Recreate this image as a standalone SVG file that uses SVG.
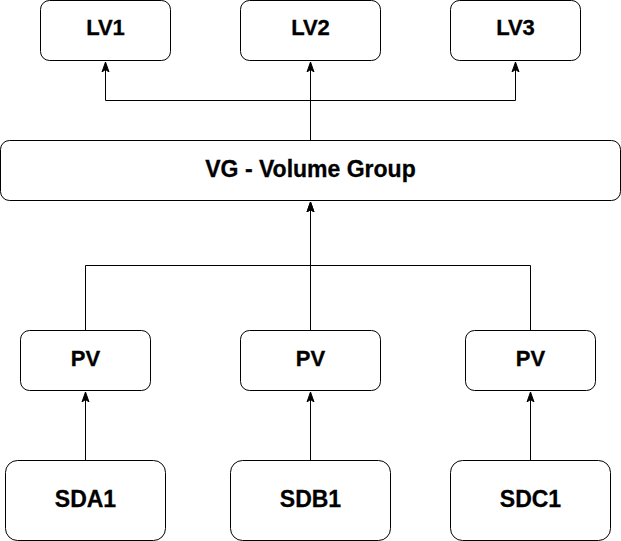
<svg xmlns="http://www.w3.org/2000/svg" width="621" height="541" viewBox="0 0 621 541">
<defs>
<marker id="arr" markerWidth="10" markerHeight="10" viewBox="0 0 10 10" refX="10" refY="5" orient="auto" markerUnits="userSpaceOnUse">
<path d="M0,1.5 L10,5 L0,8.5 L2.5,5 Z" fill="#000" stroke="#000" stroke-width="1"/>
</marker>
<style>
.box{fill:#fff;stroke:#000;stroke-width:1}
.t{font-family:"Liberation Sans",Arial,sans-serif;font-weight:bold;text-anchor:middle;fill:#000;stroke:#000;stroke-width:0.3}
.c{fill:none;stroke:#000;stroke-width:1}
</style>
</defs>
<rect width="621" height="541" fill="#fff"/>
<g id="connectors">
<path class="c" d="M310.5,140 V100.5 H105.5 V62" marker-end="url(#arr)"/>
<path class="c" d="M310.5,140 V62" marker-end="url(#arr)"/>
<path class="c" d="M310.5,100.5 H515.5 V62" marker-end="url(#arr)"/>
<path class="c" d="M85.5,330 V265.5 H310.5 V202" marker-end="url(#arr)"/>
<path class="c" d="M310.5,330 V202" marker-end="url(#arr)"/>
<path class="c" d="M530.5,330 V265.5 H310.5"/>
<path class="c" d="M85.5,460 V392" marker-end="url(#arr)"/>
<path class="c" d="M310.5,460 V392" marker-end="url(#arr)"/>
<path class="c" d="M530.5,460 V392" marker-end="url(#arr)"/>
</g>
<g id="lv1"><rect class="box" x="40.5" y="0.5" width="130" height="60" rx="9"/><text class="t" x="105.5" y="35" font-size="22">LV1</text></g>
<g id="lv2"><rect class="box" x="240.5" y="0.5" width="140" height="60" rx="9"/><text class="t" x="310.5" y="35" font-size="22">LV2</text></g>
<g id="lv3"><rect class="box" x="450.5" y="0.5" width="130" height="60" rx="9"/><text class="t" x="515.5" y="35" font-size="22">LV3</text></g>
<g id="vg"><rect class="box" x="0.5" y="140.5" width="620" height="60" rx="9"/><text class="t" x="310.5" y="177" font-size="23">VG - Volume Group</text></g>
<g id="pv1"><rect class="box" x="20.5" y="330.5" width="130" height="60" rx="9"/><text class="t" x="85.5" y="366" font-size="22">PV</text></g>
<g id="pv2"><rect class="box" x="240.5" y="330.5" width="140" height="60" rx="9"/><text class="t" x="310.5" y="366" font-size="22">PV</text></g>
<g id="pv3"><rect class="box" x="465.5" y="330.5" width="130" height="60" rx="9"/><text class="t" x="530.5" y="366" font-size="22">PV</text></g>
<g id="sda1"><rect class="box" x="5.5" y="460.5" width="160" height="80" rx="12"/><text class="t" x="85.5" y="507" font-size="23">SDA1</text></g>
<g id="sdb1"><rect class="box" x="230.5" y="460.5" width="160" height="80" rx="12"/><text class="t" x="310.5" y="507" font-size="23">SDB1</text></g>
<g id="sdc1"><rect class="box" x="450.5" y="460.5" width="160" height="80" rx="12"/><text class="t" x="530.5" y="507" font-size="23">SDC1</text></g>
</svg>
